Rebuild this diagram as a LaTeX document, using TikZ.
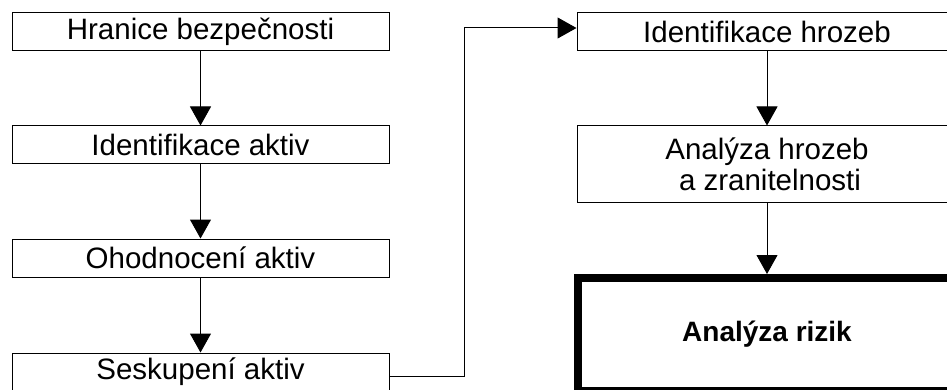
\documentclass[tikz,border=0pt]{standalone}
\usepackage{fontspec}
\setmainfont{Liberation Sans}
\usetikzlibrary{arrows.meta}
\begin{document}
\begin{tikzpicture}[x=1pt,y=-1pt,
  box/.style={draw=black,line width=1pt,inner sep=0pt,minimum height=38pt,
    font=\fontsize{29.5}{31}\selectfont,align=center},
  leftbox/.style={box,minimum width=377pt},
  rightbox/.style={box,minimum width=380pt},
  resultbox/.style={draw=black,line width=8pt,inner sep=0pt,minimum width=378pt,
    minimum height=113pt,font=\bfseries\fontsize{28}{31}\selectfont},
  arr/.style={line width=1pt,-{Triangle[length=19pt,width=21pt]}}]
\useasboundingbox (0,0) rectangle (947,390);
\clip (0,0) rectangle (947,390);
\fill[white] (0,0) rectangle (947,390);

% left column
\node[leftbox] (s1) at (200.5,32) {Hranice bezpečnosti};
\node[leftbox] (s2) at (200.5,145) {Identifikace aktiv};
\node[leftbox] (s3) at (200.5,258) {Ohodnocení aktiv};
\node[leftbox] (s4) at (200.5,372) {Seskupení aktiv};

% right column
\node[rightbox] (h1) at (767,32) {Identifikace hrozeb};
\node[rightbox,minimum height=76pt] (h2) at (767,164) {Analýza hrozeb\\\hspace*{6pt}a zranitelnosti};
\node[resultbox] (h3) at (767,334.5) {Analýza rizik};

% connectors
\draw[arr] (s1) -- (s2);
\draw[arr] (s2) -- (s3);
\draw[arr] (s3) -- (s4);
\coordinate (s4out) at ([yshift=-4pt]s4.east);
\coordinate (h1in) at ([yshift=4pt]h1.west);
\coordinate (turn) at (464,0);
\draw[arr] (s4out) -| (turn |- h1in) -- (h1in);
\draw[arr] (h1) -- (h2);
\draw[arr] (h2) -- (h3);
\end{tikzpicture}
\end{document}
